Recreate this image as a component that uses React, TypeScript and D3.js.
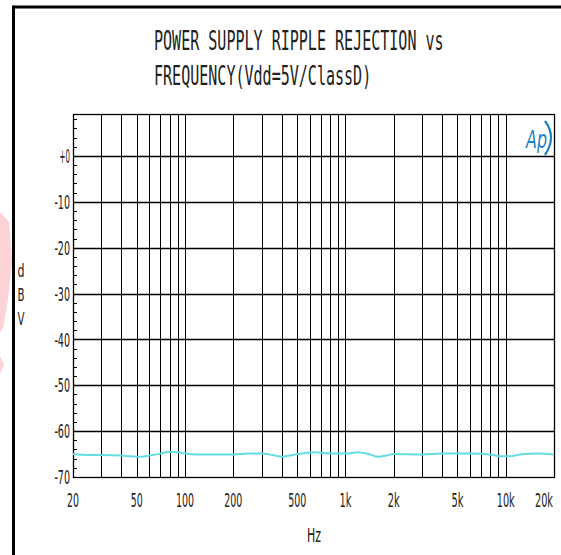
import React from "react";
import * as d3 from "d3";

const freqs = [20, 25, 30, 40, 45, 52, 60, 70, 80, 90, 100, 120, 150, 200, 250, 300, 350, 400, 450, 550, 650, 750, 900, 1000, 1200, 1400, 1600, 1800, 2000, 3000, 4000, 6000, 8000, 9500, 11000, 13000, 16000, 20000];
const dbv = [-65.0, -65.2, -65.2, -65.3, -65.5, -65.6, -65.3, -64.9, -64.5, -64.6, -64.9, -65.1, -65.1, -65.1, -64.9, -64.9, -65.2, -65.6, -65.3, -64.8, -64.6, -64.8, -64.9, -64.9, -64.6, -65.0, -65.6, -65.3, -65.0, -65.1, -64.9, -64.9, -65.1, -65.5, -65.4, -65.0, -64.9, -65.1];

const xTickValues = [20, 50, 100, 200, 500, 1000, 2000, 5000, 10000, 20000];
const xTickLabels = ["20", "50", "100", "200", "500", "1k", "2k", "5k", "10k", "20k"];
const yTickValues = [0, -10, -20, -30, -40, -50, -60, -70];
const yTickLabels = ["+0", "-10", "-20", "-30", "-40", "-50", "-60", "-70"];
const titleLines = ["POWER SUPPLY RIPPLE REJECTION vs", "FREQUENCY(Vdd=5V/ClassD)"];

const W = 561, H = 555;
const L = 73, R = 554, T = 114, B = 477;

export default function App() {
  const x = d3.scaleLog().domain([20, 20000]).range([L, R]);
  const y = d3.scaleLinear().domain([-70, 9.15]).range([B, T]);

  const gridF: number[] = [];
  for (let dec = 10; dec <= 10000; dec *= 10) {
    for (let m = 1; m <= 9; m++) {
      const f = dec * m;
      if (f > 20 && f < 20000) gridF.push(f);
    }
  }
  const minorY: number[] = [];
  for (let v = -68; v <= 8; v += 2) if (v % 10 !== 0) minorY.push(v);

  const line = d3.line<number>().x((_, i) => x(freqs[i])).y((d) => y(d)).curve(d3.curveMonotoneX);

  const narrow = "'DejaVu Sans Condensed', 'DejaVu Sans', sans-serif";

  return (
    <div style={{ position: "fixed", left: 0, top: 0, width: W, height: H, background: "#fff" }}>
      <svg width={W} height={H} style={{ display: "block" }}>
        <rect x={0} y={0} width={W} height={H} fill="#fff" />
        {/* watermark fragments */}
        <path d="M0,212 L9,222 L12,260 L8,300 L3,328 L0,332 Z" fill="#fbd3d6" />
        <path d="M0,356 L4,365 L0,374 Z" fill="#fbd3d6" />
        {/* outer frame */}
        <line x1={13.5} y1={7} x2={W} y2={7} stroke="#000" strokeWidth={3} />
        <line x1={13.5} y1={5.5} x2={13.5} y2={H} stroke="#000" strokeWidth={3} />

        {/* title */}
        {titleLines.map((t, i) => (
          <text key={i} x={154} y={50 + i * 35} fontFamily="'DejaVu Sans Mono', monospace" fontSize={26}
            textLength={t.length * 9.05} lengthAdjust="spacingAndGlyphs" fill="#222">{t}</text>
        ))}

        {/* vertical grid */}
        {gridF.map((f) => (
          <line key={"v" + f} x1={Math.round(x(f)) + 0.5} x2={Math.round(x(f)) + 0.5} y1={T} y2={B} stroke="#000" strokeWidth={1} />
        ))}
        {/* horizontal grid */}
        {yTickValues.filter((v) => v > -70).map((v) => (
          <line key={"h" + v} x1={L} x2={R} y1={Math.round(y(v)) + 0.5} y2={Math.round(y(v)) + 0.5} stroke="#000" strokeWidth={1.3} />
        ))}
        {/* minor ticks */}
        {minorY.map((v) => (
          <line key={"m" + v} x1={L} x2={L + 4} y1={Math.round(y(v)) + 0.5} y2={Math.round(y(v)) + 0.5} stroke="#000" strokeWidth={1} />
        ))}
        {/* plot border */}
        <rect x={L + 0.5} y={T + 0.5} width={R - L} height={B - T} fill="none" stroke="#000" strokeWidth={1.3} />

        {/* curve */}
        <path d={line(dbv) || ""} fill="none" stroke="#66dde0" strokeWidth={2} />

        {/* y tick labels */}
        {yTickValues.map((v, i) => (
          <text key={"yl" + v} x={70} y={y(v)} dy="0.36em" textAnchor="end" fontFamily={narrow} fontSize={20}
            textLength={yTickLabels[i].length * 5.2} lengthAdjust="spacingAndGlyphs" fill="#222">{yTickLabels[i]}</text>
        ))}
        {/* x tick labels */}
        {xTickValues.map((v, i) => {
          const last = i === xTickValues.length - 1;
          return (
            <text key={"xl" + v} x={last ? x(v) - 1 : x(v)} y={500} dy="0.36em" textAnchor={last ? "end" : "middle"} fontFamily={narrow} fontSize={20}
              textLength={xTickLabels[i].length * 6} lengthAdjust="spacingAndGlyphs" fill="#222">{xTickLabels[i]}</text>
          );
        })}

        {/* axis titles */}
        {["d", "B", "V"].map((c, i) => (
          <text key={c} x={21} y={271 + i * 24} dy="0.36em" textAnchor="middle" fontFamily={narrow} fontSize={17}
            textLength={7} lengthAdjust="spacingAndGlyphs" fill="#222">{c}</text>
        ))}
        <text x={314} y={535} dy="0.36em" textAnchor="middle" fontFamily={narrow} fontSize={20}
          textLength={14} lengthAdjust="spacingAndGlyphs" fill="#222">Hz</text>

        {/* Ap logo */}
        <text x={526} y={148} fontFamily="'DejaVu Sans', sans-serif" fontStyle="italic" fontSize={24}
          textLength={21} lengthAdjust="spacingAndGlyphs" fill="#1f7fc4">Ap</text>
        <path d="M545,121 Q557,137 545,155" fill="none" stroke="#1f7fc4" strokeWidth={2.2} />
      </svg>
    </div>
  );
}
